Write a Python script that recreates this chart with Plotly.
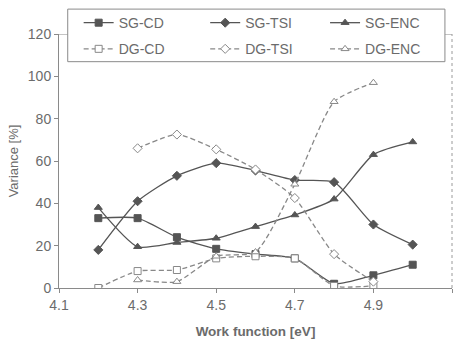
import plotly.graph_objects as go

work_function = [4.2, 4.3, 4.4, 4.5, 4.6, 4.7, 4.8, 4.9, 5.0]

sg_cd = [33, 33, 24, 18.5, 16, 14, 2, 6, 11]
sg_tsi = [18, 41, 53, 59, 55.5, 51, 50, 30, 20.5]
sg_enc = [38, 19.5, 21.5, 23.5, 29, 34.5, 42, 63, 69]

dg_x_cd = [4.2, 4.3, 4.4, 4.5, 4.6, 4.7, 4.8, 4.9]
dg_cd = [0, 8, 8.5, 14, 15, 14, 1, 1]
dg_x_tsi = [4.3, 4.4, 4.5, 4.6, 4.7, 4.8, 4.9]
dg_tsi = [66, 72.5, 65.5, 56, 42.5, 16, 3]
dg_x_enc = [4.3, 4.4, 4.5, 4.6, 4.7, 4.8, 4.9]
dg_enc = [3.8, 3, 15, 17, 49, 88, 97]

x_ticks = [4.1, 4.3, 4.5, 4.7, 4.9, 5.1]
y_ticks = [0, 20, 40, 60, 80, 100, 120]

solid = "#555555"
dashed = "#888888"
text_col = "#6b6b6b"
frame_col = "#8a8a8a"

# legend grid inside the boxed key (paper coordinates of each entry's left edge / centre)
legend_cols = [0.05, 0.372, 0.677]
legend_rows = [1.043, 0.94]

fig = go.Figure()


def add(name, x, y, symbol, color, dash, filled, legend_id):
    fig.add_trace(go.Scatter(
        x=x, y=y, name=name, mode="lines+markers", legend=legend_id,
        line=dict(color=color, width=1.3, dash=dash, shape="spline", smoothing=0.6),
        marker=dict(symbol=symbol, size=7,
                    color=color if filled else "white",
                    line=dict(color=color, width=1)),
    ))


add("SG-CD", work_function, sg_cd, "square", solid, "solid", True, "legend")
add("SG-TSI", work_function, sg_tsi, "diamond", solid, "solid", True, "legend2")
add("SG-ENC", work_function, sg_enc, "triangle-up", solid, "solid", True, "legend3")
add("DG-CD", dg_x_cd, dg_cd, "square", dashed, "5px,3px", False, "legend4")
add("DG-TSI", dg_x_tsi, dg_tsi, "diamond", dashed, "5px,3px", False, "legend5")
add("DG-ENC", dg_x_enc, dg_enc, "triangle-up", dashed, "5px,3px", False, "legend6")

# plot frame: solid top edge, dotted right edge
fig.add_shape(type="line", xref="paper", yref="y", x0=0, x1=1, y0=120, y1=120,
              line=dict(color=frame_col, width=1))
fig.add_shape(type="line", xref="paper", yref="y", x0=1, x1=1, y0=0, y1=120,
              line=dict(color="#9a9a9a", width=1, dash="dot"))
# legend box
fig.add_shape(type="rect", xref="paper", yref="paper", x0=0.0222, x1=0.982, y0=0.891, y1=1.098,
              line=dict(color=frame_col, width=1), fillcolor="white", layer="above")


def legend_box(col, row):
    return dict(
        x=legend_cols[col], y=legend_rows[row], xanchor="left", yanchor="middle",
        bgcolor="rgba(0,0,0,0)", borderwidth=0, itemwidth=30,
        font=dict(size=14, color=text_col),
    )


fig.update_layout(
    width=459, height=339,
    margin=dict(l=59, r=7, t=34, b=51, autoexpand=False),
    showlegend=True,
    paper_bgcolor="white", plot_bgcolor="white",
    font=dict(family="Liberation Sans, Arial, sans-serif", size=13, color=text_col),
    legend=legend_box(0, 0), legend2=legend_box(1, 0), legend3=legend_box(2, 0),
    legend4=legend_box(0, 1), legend5=legend_box(1, 1), legend6=legend_box(2, 1),
    xaxis=dict(
        range=[4.1, 5.1], tickvals=x_ticks, ticktext=[f"{v:.1f}" for v in x_ticks],
        showgrid=False, zeroline=False, showline=True, linecolor=frame_col,
        ticks="outside", ticklen=4, tickcolor=frame_col, tickfont=dict(size=14),
        automargin=False,
        title=dict(text="<b>Work function [eV]</b>", font=dict(size=13.5, color=text_col), standoff=15),
    ),
    yaxis=dict(
        range=[0, 120], tickvals=y_ticks,
        showgrid=False, zeroline=False, showline=True, linecolor=frame_col,
        ticks="outside", ticklen=4, tickcolor=frame_col, tickfont=dict(size=14),
        automargin=False,
        title=dict(text="Variance [%]", font=dict(size=13, color=text_col), standoff=6),
    ),
)

fig.write_html("out.html")
